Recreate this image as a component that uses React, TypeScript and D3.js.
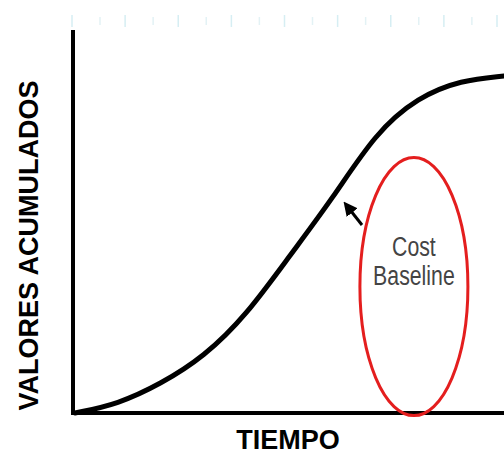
import * as d3 from 'd3';
import React, { useEffect, useRef } from 'react';

// time (arbitrary units) and cumulative value (% of total)
const tiempo = [0, 1, 2, 3, 4, 5, 6, 7, 8, 9, 10];
const valores = [0, 2.3, 7.6, 14.6, 25.6, 41.0, 55.9, 73.1, 82.5, 86.9, 88.0];

const topTicks = [0, 1, 2, 3, 4, 5, 6, 7, 8];
const annotation = ['Cost', 'Baseline'];

const W = 504;
const H = 455;

const App: React.FC = () => {
  const svgRef = useRef<SVGSVGElement>(null);

  useEffect(() => {
    if (!svgRef.current) return;
    const svg = d3.select(svgRef.current);
    svg.selectAll('*').remove();

    const margin = { top: 30, right: 0, bottom: 42, left: 75 };

    const x = d3.scaleLinear().domain([0, 10]).range([margin.left, W - margin.right]);
    const y = d3.scaleLinear().domain([0, 100]).range([H - margin.bottom, margin.top]);

    // faint ruler marks at the top (cropped from the original slide)
    const tx = d3.scaleLinear().domain([0, 8]).range([72, 497]);
    svg.append('g')
      .selectAll('line')
      .data(topTicks)
      .join('line')
      .attr('x1', d => tx(d))
      .attr('x2', d => tx(d))
      .attr('y1', 15)
      .attr('y2', 27)
      .attr('stroke', '#d6eef3')
      .attr('stroke-width', 1.5);
    svg.append('g')
      .selectAll('line')
      .data(topTicks.slice(0, -1))
      .join('line')
      .attr('x1', d => tx(d) + 28)
      .attr('x2', d => tx(d) + 28)
      .attr('y1', 17)
      .attr('y2', 25)
      .attr('stroke', '#e3f2f5')
      .attr('stroke-width', 1.5);

    // axes
    svg.append('line')
      .attr('x1', x(0) - 2).attr('x2', x(0) - 2)
      .attr('y1', y(100)).attr('y2', y(0) + 2)
      .attr('stroke', '#000').attr('stroke-width', 4);
    svg.append('line')
      .attr('x1', x(0) - 4).attr('x2', x(10))
      .attr('y1', y(0)).attr('y2', y(0))
      .attr('stroke', '#000').attr('stroke-width', 4);

    // S-curve
    const line = d3.line<number>()
      .x((_, i) => x(tiempo[i]))
      .y(d => y(d))
      .curve(d3.curveBasis);

    svg.append('path')
      .datum(valores)
      .attr('fill', 'none')
      .attr('stroke', '#000')
      .attr('stroke-width', 5)
      .attr('stroke-linecap', 'round')
      .attr('d', line);

    // red ellipse
    const cx = x(7.9);
    svg.append('ellipse')
      .attr('cx', cx)
      .attr('cy', y(33))
      .attr('rx', 54)
      .attr('ry', 129)
      .attr('fill', 'none')
      .attr('stroke', '#e41e1e')
      .attr('stroke-width', 3);

    // arrow
    svg.append('defs').append('marker')
      .attr('id', 'arrow')
      .attr('viewBox', '0 0 10 10')
      .attr('refX', 6).attr('refY', 5)
      .attr('markerUnits', 'userSpaceOnUse')
      .attr('markerWidth', 14).attr('markerHeight', 14)
      .attr('orient', 'auto')
      .append('path')
      .attr('d', 'M0,0L10,5L0,10z')
      .attr('fill', '#000');

    svg.append('line')
      .attr('x1', 362).attr('y1', 225)
      .attr('x2', 347).attr('y2', 206)
      .attr('stroke', '#000')
      .attr('stroke-width', 3)
      .attr('marker-end', 'url(#arrow)');

    svg.append('g')
      .selectAll('text')
      .data(annotation)
      .join('text')
      .attr('transform', (_, i) => `translate(${cx},${256 + i * 29}) scale(0.76,1)`)
      .attr('text-anchor', 'middle')
      .attr('font-family', '"Liberation Sans", Arial, sans-serif')
      .attr('font-size', 28)
      .attr('fill', '#444')
      .text(d => d);

    // axis titles
    svg.append('text')
      .attr('transform', `translate(38,${(y(0) + y(100)) / 2 + 24}) rotate(-90)`)
      .attr('text-anchor', 'middle')
      .attr('font-family', '"Liberation Sans", Arial, sans-serif')
      .attr('font-weight', 'bold')
      .attr('font-size', 27)
      .attr('fill', '#000')
      .text('VALORES ACUMULADOS');

    svg.append('text')
      .attr('x', 288)
      .attr('y', 449)
      .attr('text-anchor', 'middle')
      .attr('font-family', '"Liberation Sans", Arial, sans-serif')
      .attr('font-weight', 'bold')
      .attr('font-size', 27)
      .attr('fill', '#000')
      .text('TIEMPO');
  }, []);

  return (
    <svg
      ref={svgRef}
      width={W}
      height={H}
      style={{ position: 'absolute', left: 0, top: 0, background: '#fff' }}
    />
  );
};

export default App;
